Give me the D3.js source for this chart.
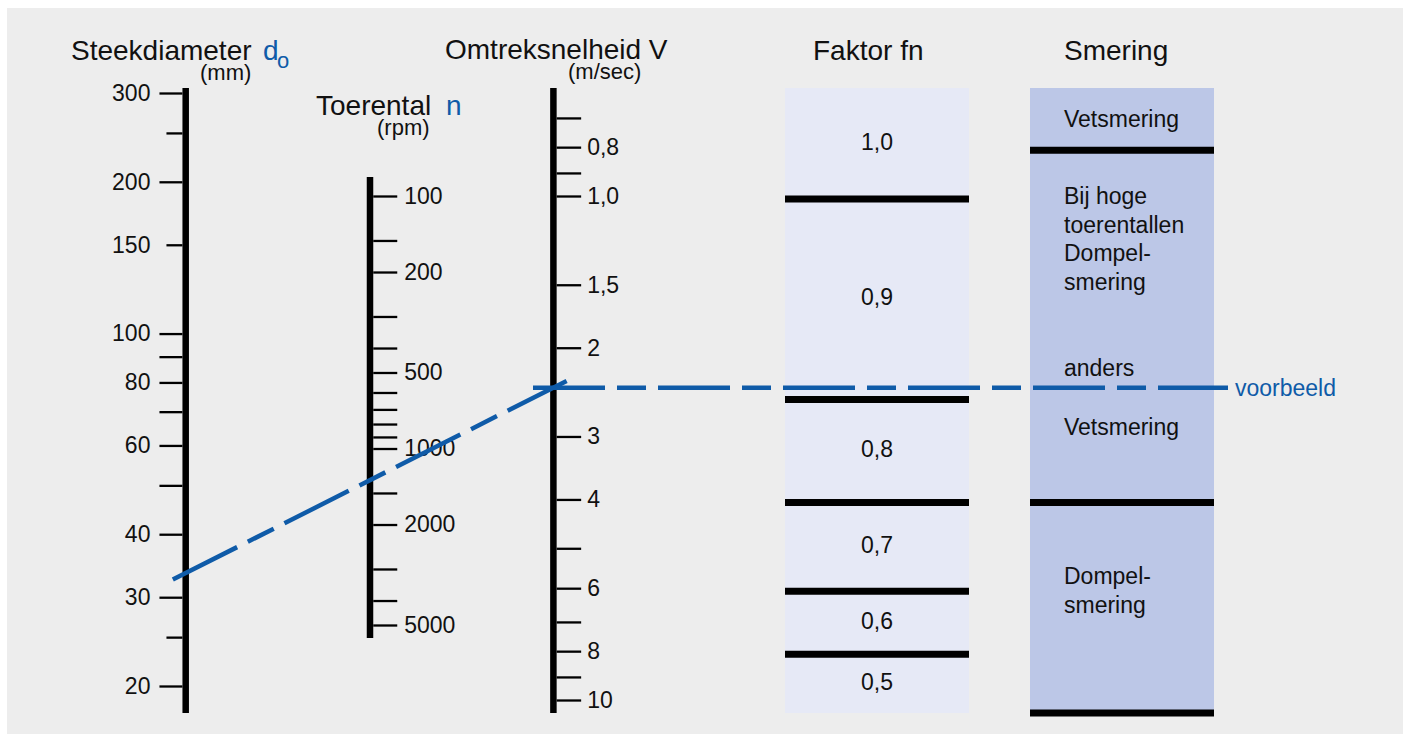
<!DOCTYPE html>
<html><head><meta charset="utf-8">
<script src="https://cdn.jsdelivr.net/npm/d3@7"></script>
<style>
body{margin:0;background:#fff}
svg{display:block}
text{font-family:"Liberation Sans",Arial,Helvetica,sans-serif;fill:#111}
</style>
</head><body>
<svg id="c" width="1410" height="737"></svg>
<script>
// ---- data ----
const diameterTicks = [300,250,200,150,100,90,80,70,60,50,40,30,25,20];
const diameterLabels = [300,200,150,100,80,60,40,30,20];
const diameterShortTicks = [250,150,25];
const speedTicks = [100,150,200,300,400,500,600,700,800,900,1000,1500,2000,3000,4000,5000];
const speedLabels = [100,200,500,1000,2000,5000];
const velocityTicks = [0.7,0.8,0.9,1,1.5,2,3,4,5,6,7,8,9,10];
const velocityLabelValues = [0.8,1,1.5,2,3,4,6,8,10];
const velocityLabelText = ["0,8","1,0","1,5","2","3","4","6","8","10"];
const factorBreaks = [1,2.5,4,6,8];
const factorValues = ["1,0","0,9","0,8","0,7","0,6","0,5"];
const lubeBreaks = [0.8,4];
const lubeTopText = ["Vetsmering"];
const lubeMidTextA = ["Bij hoge","toerentallen","Dompel-","smering"];
const lubeMidTextB = ["anders"];
const lubeMidTextC = ["Vetsmering"];
const lubeBottomText = ["Dompel-","smering"];
const exampleDiameter = 33.5;
const exampleVelocity = 2.4;

// ---- layout ----
const svg = d3.select("#c");
const BLUE = "#0f5ba8";
const FS = 23, TFS = 28;
const yTop = 88, yBot = 713;

svg.append("rect").attr("x",7).attr("y",8).attr("width",1396).attr("height",726).attr("fill","#ededed");

const yD = d3.scaleLog().domain([20,300]).range([686,93]);
const yN = d3.scaleLog().domain([100,5000]).range([196,625]);
const yV = d3.scaleLog().domain([1,10]).range([196,700]);

const xD = 185.7, xN = 370, xV = 553.4;
const barW = 6.5;

// bars
[[xD,yTop,yBot],[xN,177,638],[xV,yTop,yBot]].forEach(([x,y0,y1])=>{
  svg.append("line").attr("x1",x).attr("x2",x).attr("y1",y0).attr("y2",y1)
    .attr("stroke","#000").attr("stroke-width",barW);
});

function styleAxis(g){
  g.select(".domain").remove();
  g.selectAll(".tick line").attr("stroke","#000").attr("stroke-width",2.3);
  g.selectAll(".tick text").attr("font-size",FS).attr("fill","#111")
    .attr("font-family","'Liberation Sans',Arial,Helvetica,sans-serif");
}

// diameter axis
const gD = svg.append("g").attr("transform",`translate(${xD-barW/2},0)`)
  .call(d3.axisLeft(yD).tickValues(diameterTicks).tickSize(23).tickPadding(9)
    .tickFormat(d=>diameterLabels.includes(d)?String(d):""));
styleAxis(gD);
gD.selectAll(".tick").filter(d=>diameterShortTicks.includes(d)).select("line").attr("x2",-16);

// speed axis
const gN = svg.append("g").attr("transform",`translate(${xN+barW/2},0)`)
  .call(d3.axisRight(yN).tickValues(speedTicks).tickSize(24).tickPadding(7)
    .tickFormat(d=>speedLabels.includes(d)?String(d):""));
styleAxis(gN);

// velocity axis
const gV = svg.append("g").attr("transform",`translate(${xV+barW/2},0)`)
  .call(d3.axisRight(yV).tickValues(velocityTicks).tickSize(24.5).tickPadding(6)
    .tickFormat(d=>{const i=velocityLabelValues.indexOf(d);return i>=0?velocityLabelText[i]:"";}));
styleAxis(gV);

// titles
const T = (x,y,s,size,fill,anchor)=>svg.append("text").attr("x",x).attr("y",y)
  .attr("font-size",size).style("fill",fill||"#111").attr("text-anchor",anchor||"start").text(s);
T(71,60,"Steekdiameter",TFS);
T(263,60,"d",TFS,BLUE);
T(277,68,"o",22,BLUE);
T(200,80,"(mm)",22);
T(316,115,"Toerental",TFS);
T(446,115,"n",TFS,BLUE);
T(377,135,"(rpm)",22);
T(445,59,"Omtreksnelheid V",TFS);
T(568,79,"(m/sec)",22);
T(813,60,"Faktor fn",TFS);
T(1064,60,"Smering",TFS);

// factor column
const fx0 = 785, fx1 = 969;
svg.append("rect").attr("x",fx0).attr("y",yTop).attr("width",fx1-fx0).attr("height",yBot-yTop).attr("fill","#e6e9f6");
const fEdges = [yTop, ...factorBreaks.map(v=>yV(v)+3), yBot];
factorValues.forEach((lab,i)=>{
  const yc = (fEdges[i]+fEdges[i+1])/2 - 2;
  svg.append("text").attr("x",(fx0+fx1)/2).attr("y",yc).attr("dy","0.35em")
    .attr("text-anchor","middle").attr("font-size",FS).text(lab);
});
factorBreaks.forEach(v=>{
  svg.append("line").attr("x1",fx0).attr("x2",fx1).attr("y1",yV(v)+3).attr("y2",yV(v)+3)
    .attr("stroke","#000").attr("stroke-width",7);
});

// lubrication column
const sx0 = 1030, sx1 = 1214, tx = 1064, lh = 28.5;
svg.append("rect").attr("x",sx0).attr("y",yTop).attr("width",sx1-sx0).attr("height",yBot-yTop).attr("fill","#bcc7e7");
const lb = lubeBreaks.map(v=>yV(v)+3);
[...lb, yBot].forEach(y=>{
  svg.append("line").attr("x1",sx0).attr("x2",sx1).attr("y1",y).attr("y2",y)
    .attr("stroke","#000").attr("stroke-width",7);
});
function lines(arr, y0){
  arr.forEach((s,i)=>T(tx,y0+i*lh,s,FS));
}
lines(lubeTopText, (yTop+lb[0])/2+8);
lines(lubeMidTextA, lb[0]+54);
lines(lubeMidTextB, lb[0]+226);
lines(lubeMidTextC, lb[0]+285);
lines(lubeBottomText, lb[1]+82);

// example line
const A = [xD, yD(exampleDiameter)], B = [xV, yV(exampleVelocity)];
const ext0 = -0.035, ext1 = 1.036;
const P = t=>[A[0]+(B[0]-A[0])*t, A[1]+(B[1]-A[1])*t];
const dash = "72 12 29 12";
svg.append("path").attr("d",d3.line()([P(ext0),P(ext1)]))
  .attr("stroke",BLUE).attr("stroke-width",4.5).attr("fill","none").attr("stroke-dasharray",dash);
svg.append("path").attr("d",d3.line()([[533,B[1]],[1228,B[1]]]))
  .attr("stroke",BLUE).attr("stroke-width",4.5).attr("fill","none").attr("stroke-dasharray",dash);
T(1235,B[1]+8,"voorbeeld",FS,BLUE);
</script>
</body></html>
